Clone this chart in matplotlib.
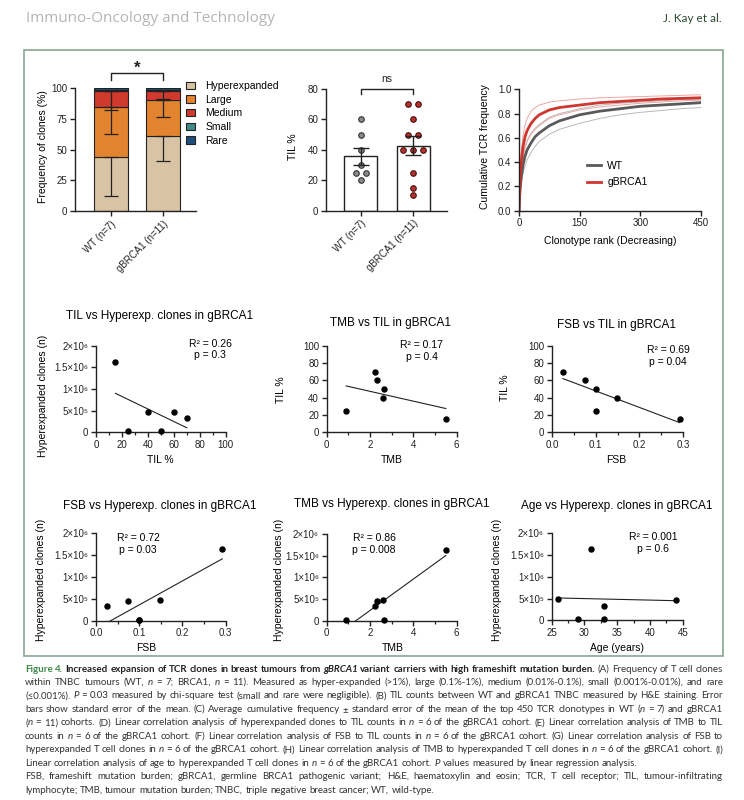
import numpy as np
import matplotlib
matplotlib.use('Agg')
import matplotlib.pyplot as plt
from matplotlib.patches import Rectangle, Patch
from matplotlib.lines import Line2D
from matplotlib.ticker import MultipleLocator

# ---- data ----
groups = ['WT (n=7)', 'gBRCA1 (n=11)']
clone_classes = ['Hyperexpanded', 'Large', 'Medium', 'Small', 'Rare']
freq_wt = [44.0, 41.0, 12.5, 1.5, 1.0]
freq_brca = [61.5, 29.0, 7.0, 1.5, 1.0]
err_wt = [31.5, 22.0, 15.5, 0.8, 0.0]
err_brca = [20.7, 14.1, 6.5, 0.8, 0.0]
class_colors = ['#D8C3A5', '#E2832F', '#CF3A2C', '#3F8C86', '#1E4F7A']

til_wt = [60, 50, 40, 30, 25, 25, 20]
til_brca = [70, 70, 60, 50, 50, 40, 40, 40, 25, 15, 10]

rank = [0, 1, 3, 5, 10, 15, 20, 30, 40, 50, 75, 100, 150, 200, 250, 300, 350, 400, 450]
cum_brca = [0.0, 0.12, 0.28, 0.38, 0.53, 0.61, 0.66, 0.72, 0.76, 0.79, 0.83, 0.85, 0.87, 0.89, 0.90, 0.91, 0.92, 0.925, 0.93]
cum_brca_hi = [0.0, 0.15, 0.35, 0.46, 0.62, 0.71, 0.76, 0.82, 0.85, 0.87, 0.895, 0.905, 0.92, 0.93, 0.935, 0.94, 0.945, 0.95, 0.955]
cum_brca_lo = [0.0, 0.09, 0.22, 0.30, 0.44, 0.52, 0.57, 0.63, 0.67, 0.70, 0.76, 0.79, 0.83, 0.855, 0.87, 0.885, 0.895, 0.905, 0.91]
cum_wt = [0.0, 0.08, 0.19, 0.26, 0.38, 0.45, 0.50, 0.56, 0.61, 0.64, 0.70, 0.74, 0.79, 0.82, 0.84, 0.86, 0.87, 0.88, 0.89]
cum_wt_hi = [0.0, 0.10, 0.23, 0.31, 0.45, 0.53, 0.58, 0.64, 0.68, 0.71, 0.77, 0.80, 0.84, 0.87, 0.885, 0.895, 0.905, 0.915, 0.92]
cum_wt_lo = [0.0, 0.06, 0.15, 0.21, 0.31, 0.37, 0.42, 0.48, 0.53, 0.57, 0.63, 0.67, 0.72, 0.76, 0.79, 0.81, 0.825, 0.84, 0.85]

# gBRCA1 patients with matched data (n=6)
pt_til = [15, 25, 40, 50, 60, 70]
pt_tmb = [5.5, 0.9, 2.6, 2.65, 2.3, 2.25]
pt_fsb = [0.292, 0.1, 0.148, 0.1, 0.075, 0.025]
pt_hyper = [1.63e6, 0.02e6, 0.48e6, 0.02e6, 0.46e6, 0.33e6]
pt_age = [31, 29, 26, 33, 44, 33]

hyper_ticks = [0, 5e5, 1e6, 1.5e6, 2e6]
hyper_labels = ['0', '5×10⁵', '1×10⁶', '1.5×10⁶', '2×10⁶']

W, H = 744, 800
INK = '#222222'
plt.rcParams['font.family'] = ['Liberation Sans', 'DejaVu Sans']

fig = plt.figure(figsize=(W / 100, H / 100), dpi=100)


def px_axes(x0, y0, x1, y1):
    return fig.add_axes([x0 / W, 1 - y1 / H, (x1 - x0) / W, (y1 - y0) / H])


def ftext(x, y, s, **kw):
    return fig.text(x / W, 1 - y / H, s, **kw)


def style(ax):
    for s in ['top', 'right']:
        ax.spines[s].set_visible(False)
    for s in ['left', 'bottom']:
        ax.spines[s].set_linewidth(1.0)
        ax.spines[s].set_color(INK)
    ax.tick_params(which='major', length=3.5, width=1.0, labelsize=7, pad=2, colors=INK)
    ax.tick_params(which='minor', length=2.2, width=0.9, colors=INK)
    ax.patch.set_alpha(0)


# ---- header + frame ----
ftext(26, 18, 'Immuno-Oncology and Technology', fontsize=11, color='#b5b5b5',
      family=['Open Sans', 'DejaVu Sans'], va='center', ha='left')
ftext(722, 18, 'J. Kay et al.', fontsize=8.5, color='#2a4a30',
      family=['Lato', 'DejaVu Sans'], va='center', ha='right')
fig.patches.append(Rectangle((24 / W, 1 - 656 / H), 699 / W, 606 / H, transform=fig.transFigure,
                             fill=False, edgecolor='#8aa592', lw=1.2))

# ---- A: stacked clone frequencies ----
ax = px_axes(75, 88.3, 196, 211)
style(ax)
xpos = np.arange(2)
bottom = np.zeros(2)
tops = []
for i, cls in enumerate(clone_classes):
    vals = np.array([freq_wt[i], freq_brca[i]])
    ax.bar(xpos, vals, 0.65, bottom=bottom, color=class_colors[i], edgecolor=INK, lw=0.8, label=cls)
    bottom = bottom + vals
    tops.append(bottom.copy())
for i in range(len(clone_classes)):
    e = np.array([err_wt[i], err_brca[i]])
    if e.max() > 0:
        ax.errorbar(xpos, tops[i], yerr=[e, np.zeros(2)], fmt='none', ecolor=INK,
                    elinewidth=0.9, capsize=5, capthick=0.9, zorder=4)
ax.set_xlim(-0.69, 1.64)
ax.set_ylim(0, 100)
ax.set_yticks([0, 25, 50, 75, 100])
ax.set_xticks(xpos, groups, rotation=45, ha='right', rotation_mode='anchor')
ax.plot([0, 0, 1, 1], [107, 112.5, 112.5, 107], color=INK, lw=1, clip_on=False)
ax.text(0.5, 113, '*', ha='center', va='baseline', fontsize=12, fontweight='bold', color=INK)
ftext(43, 147, 'Frequency of clones (%)', rotation=90, ha='center', va='center', fontsize=7.5)
handles = [Patch(facecolor=c, edgecolor=INK, lw=0.8) for c in class_colors]
fig.legend(handles, clone_classes, loc='upper left', bbox_to_anchor=(186 / W, 1 - 81 / H),
           bbox_transform=fig.transFigure, frameon=False, fontsize=7.5, handlelength=0.87,
           handleheight=0.7, handletextpad=1.0, labelspacing=0.35, borderpad=0, borderaxespad=0)

# ---- B: TIL % ----
ax = px_axes(326, 89, 447, 210.7)
style(ax)
for gi, (vals, fc, ec) in enumerate([(til_wt, '#8a8a8a', '#333333'), (til_brca, '#B5312C', '#4a1010')]):
    vals = np.array(vals, dtype=float)
    mean = vals.mean()
    sem = vals.std(ddof=1) / np.sqrt(len(vals))
    ax.bar(gi, mean, 0.63, facecolor='white', edgecolor=INK, lw=1.0, zorder=1)
    # spread tied values sideways
    offs = np.zeros(len(vals))
    for v in np.unique(vals):
        idx = np.where(vals == v)[0]
        offs[idx] = (np.arange(len(idx)) - (len(idx) - 1) / 2) * 0.19
    ax.scatter(gi + offs, vals, s=16, facecolor=fc, edgecolor=ec, lw=0.8, zorder=3, clip_on=False)
    ax.errorbar(gi, mean, yerr=sem, fmt='none', ecolor=INK, elinewidth=1.0, capsize=6,
                capthick=1.0, zorder=4)
ax.set_xlim(-0.66, 1.64)
ax.set_ylim(0, 80)
ax.set_yticks([0, 20, 40, 60, 80])
ax.set_xticks(xpos, groups, rotation=45, ha='right', rotation_mode='anchor')
ax.plot([0, 0, 1, 1], [76.5, 80, 80, 76.5], color=INK, lw=1, clip_on=False)
ax.text(0.5, 83.5, 'ns', ha='center', va='bottom', fontsize=7.5, color=INK)
ftext(292.5, 147, 'TIL %', rotation=90, ha='center', va='center', fontsize=7.5)

# ---- C: cumulative frequency ----
ax = px_axes(519, 89.3, 701, 210.7)
style(ax)
ax.plot(rank, cum_wt_lo, color='#b8b8b8', lw=0.7)
ax.plot(rank, cum_wt_hi, color='#b8b8b8', lw=0.7)
ax.plot(rank, cum_brca_lo, color='#eba7a3', lw=0.7)
ax.plot(rank, cum_brca_hi, color='#eba7a3', lw=0.7)
ax.plot(rank, cum_wt, color='#5a5a5a', lw=2.0)
ax.plot(rank, cum_brca, color='#D0352E', lw=2.0)
ax.set_xlim(0, 450)
ax.set_ylim(0, 1.0)
ax.set_xticks([0, 150, 300, 450])
ax.set_yticks(np.arange(0, 1.01, 0.2))
ax.yaxis.set_major_formatter(lambda v, p: f'{v:.1f}')
ftext(485, 147, 'Cumulative TCR frequency', rotation=90, ha='center', va='center', fontsize=7.5)
ftext(610, 241.5, 'Clonotype rank (Decreasing)', ha='center', va='center', fontsize=7.5)
ax.legend([Line2D([], [], color='#5a5a5a', lw=2), Line2D([], [], color='#D0352E', lw=2)],
          ['WT', 'gBRCA1'], loc='upper left', bbox_to_anchor=(587 / W, 1 - 161 / H),
          bbox_transform=fig.transFigure, frameon=False, fontsize=7.5, handlelength=1.35,
          handletextpad=0.6, labelspacing=0.6, borderpad=0, borderaxespad=0)


# ---- D-I: correlation panels ----
def corr_panel(box, x, y, xlim, xmajor, xminor, ylim, yticks, ylabels, title, tpos,
               xlabel, xlpos, ylabel, ylpos, r2, p, apos, xfmt=None):
    ax = px_axes(*box)
    style(ax)
    x = np.array(x, dtype=float)
    y = np.array(y, dtype=float)
    slope, icpt = np.polyfit(x, y, 1)
    xs = np.array([x.min(), x.max()])
    ax.plot(xs, slope * xs + icpt, color=INK, lw=0.8)
    ax.scatter(x, y, s=13, color='black', zorder=3, clip_on=False)
    ax.set_xlim(*xlim)
    ax.set_ylim(*ylim)
    ax.xaxis.set_major_locator(MultipleLocator(xmajor))
    ax.xaxis.set_minor_locator(MultipleLocator(xminor))
    if xfmt:
        ax.xaxis.set_major_formatter(xfmt)
    ax.set_yticks(yticks, ylabels)
    ftext(tpos[0], tpos[1], title, ha='center', va='center', fontsize=8.5)
    ftext(xlpos[0], xlpos[1], xlabel, ha='center', va='center', fontsize=7.5)
    ftext(ylpos[0], ylpos[1], ylabel, rotation=90, ha='center', va='center', fontsize=7.5)
    ftext(apos[0], apos[1], f'R² = {r2}', ha='center', va='center', fontsize=7.5)
    ftext(apos[0], apos[1] + 12, f'p = {p}', ha='center', va='center', fontsize=7.5)
    return ax


fsb_fmt = lambda v, p: f'{v:.1f}'
corr_panel((96, 345.7, 225.7, 432.3), pt_til, pt_hyper, (0, 100), 20, 10, (0, 2e6),
           hyper_ticks, hyper_labels, 'TIL vs Hyperexp. clones in gBRCA1', (160, 316),
           'TIL %', (160, 460), 'Hyperexpanded clones (n)', (42.5, 396), '0.26', '0.3', (210, 343.5))
corr_panel((326.7, 345.7, 456.7, 432.3), pt_tmb, pt_til, (0, 6), 2, 1, (0, 100),
           [0, 20, 40, 60, 80, 100], ['0', '20', '40', '60', '80', '100'],
           'TMB vs TIL in gBRCA1', (390, 323.5), 'TMB', (391.5, 460), 'TIL %', (280.5, 390),
           '0.17', '0.4', (421.5, 345))
corr_panel((552, 345.7, 683, 432.3), pt_fsb, pt_til, (0, 0.3), 0.1, 0.05, (0, 100),
           [0, 20, 40, 60, 80, 100], ['0', '20', '40', '60', '80', '100'],
           'FSB vs TIL in gBRCA1', (616.5, 325), 'FSB', (616.5, 460), 'TIL %', (505, 388),
           '0.69', '0.04', (668, 350), xfmt=fsb_fmt)
corr_panel((96, 533.3, 225.7, 620.7), pt_fsb, pt_hyper, (0, 0.3), 0.1, 0.05, (0, 2e6),
           hyper_ticks, hyper_labels, 'FSB vs Hyperexp. clones in gBRCA1', (160, 506),
           'FSB', (146.5, 648), 'Hyperexpanded clones (n)', (40.5, 580), '0.72', '0.03',
           (138, 538), xfmt=fsb_fmt)
corr_panel((326.7, 534, 456.7, 620.7), pt_tmb, pt_hyper, (0, 6), 2, 1, (0, 2e6),
           hyper_ticks, hyper_labels, 'TMB vs Hyperexp. clones in gBRCA1', (391.5, 503.5),
           'TMB', (392.5, 648), 'Hyperexpanded clones (n)', (278.5, 580), '0.86', '0.008',
           (374, 538))
corr_panel((551.7, 533.3, 682.7, 620.3), pt_age, pt_hyper, (25, 45), 5, 2.5, (0, 2e6),
           hyper_ticks, hyper_labels, 'Age vs Hyperexp. clones in gBRCA1', (616.5, 506),
           'Age (years)', (616.5, 648), 'Hyperexpanded clones (n)', (497.5, 580), '0.001', '0.6',
           (653, 536.5))

# ---- caption ----
cap_lines = [
    ([('Figure 4.', 'g'), (' Increased expansion of TCR clones in breast tumours from ', 'b'),
      ('gBRCA1', 'bi'), (' variant carriers with high frameshift mutation burden.', 'b'),
      (' (A) Frequency of T cell clones', 'n')], True),
    ([('within TNBC tumours (WT, ', 'n'), ('n', 'i'), (' = 7; BRCA1, ', 'n'), ('n', 'i'),
      (' = 11). Measured as hyper-expanded (>1%), large (0.1%-1%), medium (0.01%-0.1%), small (0.001%-0.01%), and rare', 'n')], True),
    ([('(≤0.001%). ', 'n'), ('P', 'i'),
      (' = 0.03 measured by chi-square test (small and rare were negligible). (B) TIL counts between WT and gBRCA1 TNBC measured by H&E staining. Error', 'n')], True),
    ([('bars show standard error of the mean. (C) Average cumulative frequency ± standard error of the mean of the top 450 TCR clonotypes in WT (', 'n'),
      ('n', 'i'), (' = 7) and gBRCA1', 'n')], True),
    ([('(', 'n'), ('n', 'i'), (' = 11) cohorts. (D) Linear correlation analysis of hyperexpanded clones to TIL counts in ', 'n'),
      ('n', 'i'), (' = 6 of the gBRCA1 cohort. (E) Linear correlation analysis of TMB to TIL', 'n')], True),
    ([('counts in ', 'n'), ('n', 'i'), (' = 6 of the gBRCA1 cohort. (F) Linear correlation analysis of FSB to TIL counts in ', 'n'),
      ('n', 'i'), (' = 6 of the gBRCA1 cohort. (G) Linear correlation analysis of FSB to', 'n')], True),
    ([('hyperexpanded T cell clones in ', 'n'), ('n', 'i'),
      (' = 6 of the gBRCA1 cohort. (H) Linear correlation analysis of TMB to hyperexpanded T cell clones in ', 'n'),
      ('n', 'i'), (' = 6 of the gBRCA1 cohort. (I)', 'n')], True),
    ([('Linear correlation analysis of age to hyperexpanded T cell clones in ', 'n'), ('n', 'i'),
      (' = 6 of the gBRCA1 cohort. ', 'n'), ('P', 'i'), (' values measured by linear regression analysis.', 'n')], False),
    ([('FSB, frameshift mutation burden; gBRCA1, germline BRCA1 pathogenic variant; H&E, haematoxylin and eosin; TCR, T cell receptor; TIL, tumour-infiltrating', 'n')], True),
    ([('lymphocyte; TMB, tumour mutation burden; TNBC, triple negative breast cancer; WT, wild-type.', 'n')], False),
]

cap_style = {
    'n': dict(color='#333333'),
    'i': dict(color='#333333', fontstyle='italic'),
    'b': dict(color='#222222', fontweight='bold'),
    'bi': dict(color='#222222', fontweight='bold', fontstyle='italic'),
    'g': dict(color='#3c8a4a', fontweight='bold'),
}
cap_left, cap_right = 25, 723
cap_fs = 7.0
renderer = fig.canvas.get_renderer()

line_words = []
for runs, just in cap_lines:
    words = [[]]
    for txt, st in runs:
        for k, part in enumerate(txt.split(' ')):
            if k > 0:
                words.append([])
            if part:
                words[-1].append((part, st))
    words = [w for w in words if w]
    arts = [[fig.text(0, 0, t, fontsize=cap_fs, family=['Lato', 'DejaVu Sans'], va='baseline',
                      ha='left', **cap_style[st]) for t, st in w] for w in words]
    line_words.append((arts, just))


def measure():
    out = []
    for arts, just in line_words:
        out.append([[a.get_window_extent(renderer).width for a in w] for w in arts])
    return out


widths = measure()
space = 0.25 * cap_fs * 100 / 72
natural = max(sum(sum(w) for w in ws) + space * (len(ws) - 1) for ws in widths)
if natural > cap_right - cap_left:
    cap_fs *= (cap_right - cap_left) / natural
    for arts, just in line_words:
        for w in arts:
            for a in w:
                a.set_fontsize(cap_fs)
    widths = measure()
    space = 0.25 * cap_fs * 100 / 72

for li, ((arts, just), ws) in enumerate(zip(line_words, widths)):
    y = 671.5 + li * 13.45
    total = sum(sum(w) for w in ws)
    gap = (cap_right - cap_left - total) / (len(ws) - 1) if just and len(ws) > 1 else space
    x = cap_left
    for w_arts, w_w in zip(arts, ws):
        for a, wd in zip(w_arts, w_w):
            a.set_position((x / W, 1 - y / H))
            x += wd
        x += gap

fig.savefig('out.png', dpi=100)
